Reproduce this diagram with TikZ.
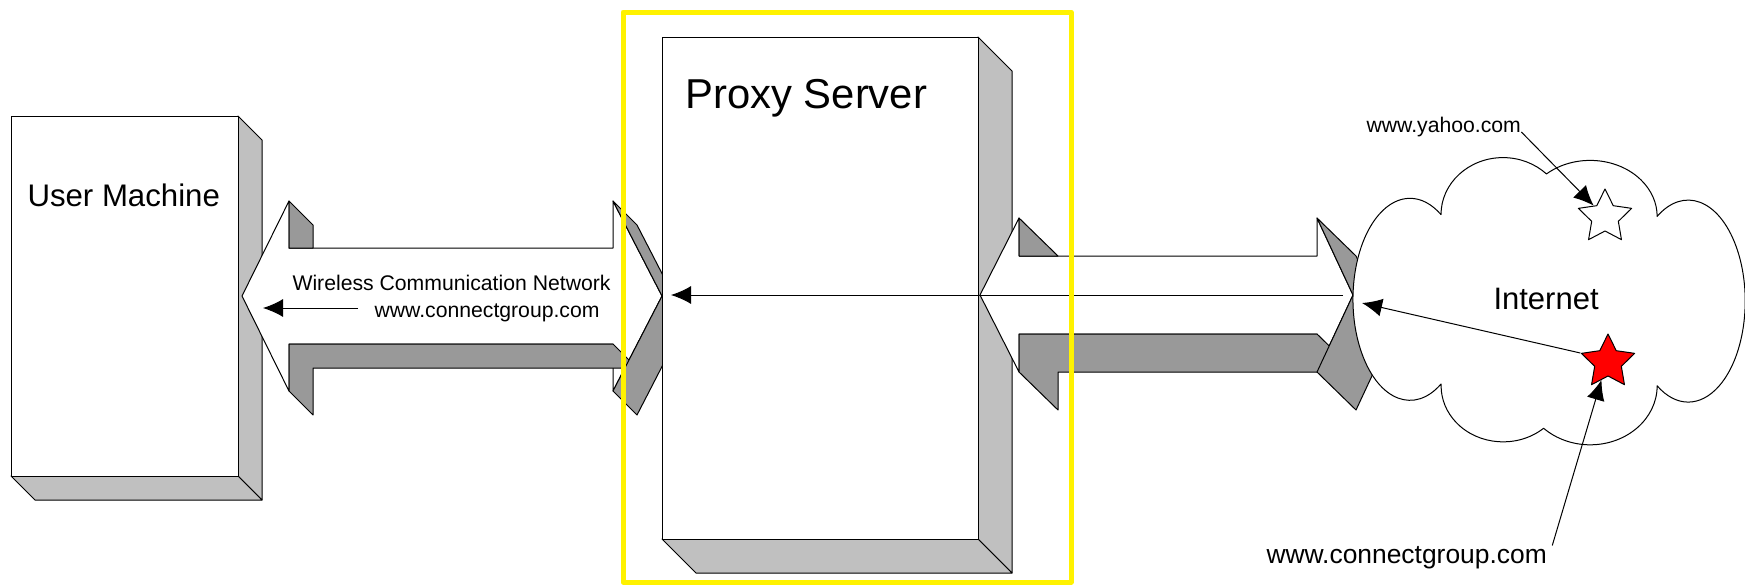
\documentclass[tikz,border=0pt]{standalone}
\usepackage{fontspec}
\setmainfont{Liberation Sans}
\usetikzlibrary{arrows.meta,shapes.geometric}
\definecolor{sidegray}{RGB}{192,192,192}
\definecolor{bevelgray}{RGB}{153,153,153}
\newcommand{\urlfont}{\fontsize{10.6}{12}\selectfont}
\newcommand{\boxfont}{\fontsize{15.6}{18}\selectfont}

\begin{document}
\begin{tikzpicture}[x=0.5pt,y=-0.5pt,line width=0.5pt,line join=round]
		\tikzstyle{front}=[draw,fill=white]
		\tikzstyle{side}=[draw,fill=sidegray]
		\tikzstyle{bevel}=[draw,fill=bevelgray]
		\tikzstyle{txt}=[inner sep=0pt,anchor=base west]
		\tikzstyle{ptr}=[-{Latex[length=10pt,width=9pt]}]
		\tikzstyle{site}=[star,star points=5,star point ratio=2,draw,inner sep=0pt,minimum size=28pt]
		\useasboundingbox (0,0) rectangle (1745,585);
		% user machine
		\draw[side] (238,116) -- (262,140) -- (262,500) -- (238,476) -- cycle;
		\draw[side] (11,476) -- (238,476) -- (262,500) -- (35,500) -- cycle;
		\draw[front] (11,116) rectangle (238,476);
		\node[txt,font=\boxfont] (user) at (27,206) {User Machine};
		% wireless link
		\draw[front] (242,296) -- (289,201) -- (289,248) -- (613,248) -- (613,201) -- (662,296)
			-- (613,391) -- (613,344) -- (289,344) -- (289,391) -- cycle;
		\draw[bevel] (289,201) -- (313,225) -- (313,248) -- (289,248) -- cycle;
		\draw[bevel] (289,344) -- (613,344) -- (637,368) -- (313,368) -- (313,415) -- (289,391) -- cycle;
		\draw[bevel] (613,201) -- (637,225) -- (686,320) -- (637,415) -- (613,391) -- (662,296) -- cycle;
		% proxy server
		\draw[side] (978,37) -- (1012,71) -- (1012,573) -- (978,539) -- cycle;
		\draw[side] (662,539) -- (978,539) -- (1012,573) -- (696,573) -- cycle;
		\draw[front] (662,37) rectangle (978,539);
		\node[txt,font=\fontsize{20.9}{24}\selectfont] (proxy) at (685,108) {Proxy Server};
		% internet link
		\draw[front] (980,295) -- (1019,218) -- (1019,256) -- (1317,256) -- (1317,218) -- (1353,295)
			-- (1317,372) -- (1317,334) -- (1019,334) -- (1019,372) -- cycle;
		\draw[bevel] (1019,218) -- (1058,256) -- (1019,256) -- cycle;
		\draw[bevel] (1019,334) -- (1317,334) -- (1356,372) -- (1058,372) -- (1058,410) -- (1019,372) -- cycle;
		\draw[bevel] (1317,218) -- (1356,256) -- (1392,333) -- (1356,410) -- (1317,372) -- (1353,295) -- cycle;
		% cloud
		\draw[front] (1441,384)
			arc[start angle=57, end angle=303, x radius=57, y radius=101]
			arc[start angle=180, end angle=314.5, x radius=62, y radius=57]
			arc[start angle=229.3, end angle=360, x radius=67, y radius=56]
			arc[start angle=237, end angle=483, x radius=57, y radius=101]
			arc[start angle=0, end angle=134, x radius=67, y radius=59]
			arc[start angle=49.2, end angle=180, x radius=62, y radius=56] -- cycle;
		\node[txt,font=\fontsize{15.5}{18}\selectfont] (inet) at (1493,309) {Internet};
		\coordinate (inetin) at (1362,303);
		% sites
		\node[site,fill=white] (ystar) at (1605,217) {};
		\node[site,fill=red] (rstar) at (1608,362) {};
		\node[txt,font=\urlfont] (yahoo) at (1366,132) {www.yahoo.com};
		\node[txt,font=\fontsize{13.2}{15}\selectfont] (cgsite) at (1266,563) {www.connectgroup.com};
		\draw[ptr] (yahoo.base east) -- (ystar.135);
		\draw[ptr] (rstar.162) -- (inetin);
		\draw[ptr] ([xshift=2.5pt]cgsite.north east) -- (rstar.250);
		% traffic
		\node[txt,font=\urlfont] (wlan) at (292,290) {Wireless Communication Network};
		\node[txt,font=\urlfont] (wlanurl) at (374,317) {www.connectgroup.com};
		\coordinate (wlfrom) at (358,308);
		\coordinate (wlto) at (263,308);
		\coordinate (gwfrom) at (1343,295);
		\coordinate (gwto) at (671,295);
		\draw[ptr] (wlfrom) -- (wlto);
		\draw[ptr] (gwfrom) -- (gwto);
		% proxy frame
		\draw[yellow,line width=2.5pt] (623,12) rectangle (1071,582);
\end{tikzpicture}
\end{document}
